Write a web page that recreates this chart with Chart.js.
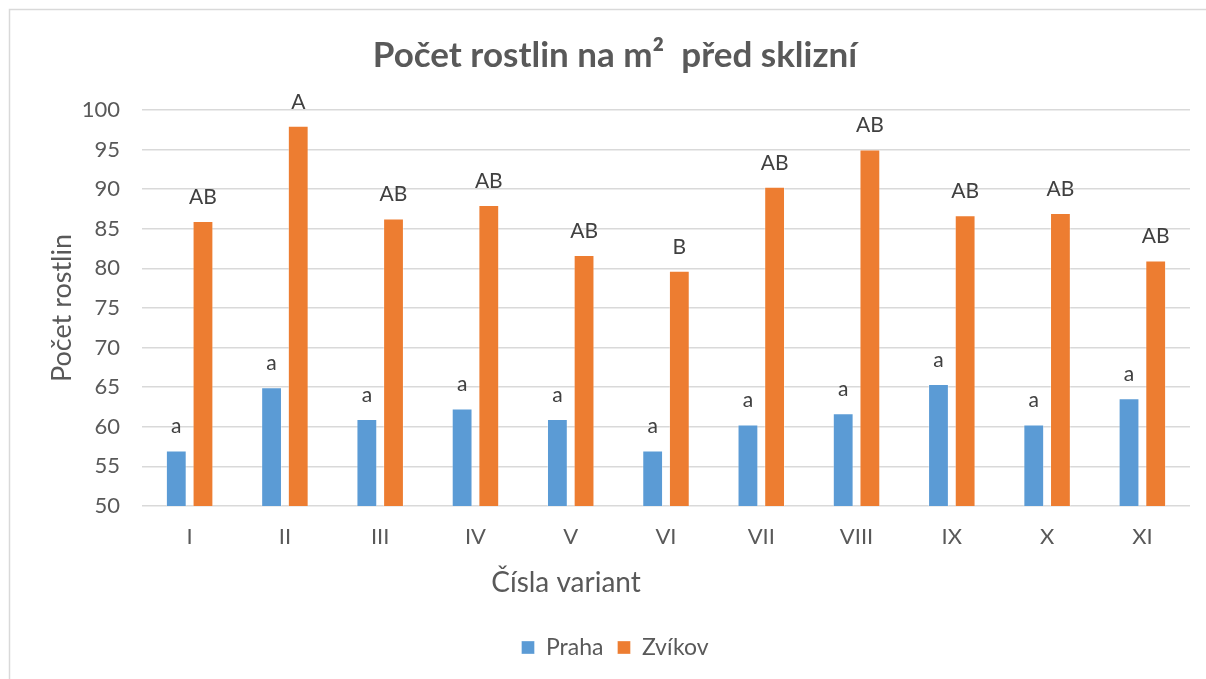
<!DOCTYPE html>
<html>
<head>
<meta charset="utf-8">
<script src="https://cdn.jsdelivr.net/npm/chart.js@4/dist/chart.umd.min.js"></script>
<style>
  html, body { margin: 0; padding: 0; background: #fff; }
  #wrap { position: relative; width: 1206px; height: 679px; }
</style>
</head>
<body>
<div id="wrap"><canvas id="c" width="1206" height="679"></canvas></div>
<script>
const categories = ['I', 'II', 'III', 'IV', 'V', 'VI', 'VII', 'VIII', 'IX', 'X', 'XI'];
const prahaValues = [57, 65, 61, 62.3, 61, 57, 60.3, 61.7, 65.4, 60.3, 63.6];
const zvikovValues = [86, 98, 86.3, 88, 81.7, 79.7, 90.3, 95, 86.7, 87, 81];
const prahaLetters = ['a', 'a', 'a', 'a', 'a', 'a', 'a', 'a', 'a', 'a', 'a'];
const zvikovLetters = ['AB', 'A', 'AB', 'AB', 'AB', 'B', 'AB', 'AB', 'AB', 'AB', 'AB'];
const seriesNames = ['Praha', 'Zvíkov'];
const yTicks = [50, 55, 60, 65, 70, 75, 80, 85, 90, 95, 100];

const FONT = 'Lato, "Open Sans", sans-serif';
const TXT = '#595959';

const frame = {
  id: 'frame',
  beforeDraw(chart) {
    const ctx = chart.ctx;
    ctx.save();
    ctx.strokeStyle = '#d9d9d9';
    ctx.lineWidth = 1.5;
    ctx.strokeRect(9.5, 9.5, chart.width + 20, chart.height + 20);
    ctx.restore();
  }
};

const letters = {
  id: 'letters',
  afterDatasetsDraw(chart) {
    const ctx = chart.ctx;
    const sets = [prahaLetters, zvikovLetters];
    ctx.save();
    ctx.font = '21px ' + FONT;
    ctx.fillStyle = '#404040';
    ctx.textAlign = 'center';
    ctx.textBaseline = 'middle';
    chart.data.datasets.forEach((ds, i) => {
      chart.getDatasetMeta(i).data.forEach((bar, j) => {
        ctx.fillText(sets[i][j], bar.x, bar.y - 24);
      });
    });
    // x axis title
    ctx.font = '28px ' + FONT;
    ctx.fillStyle = TXT;
    ctx.fillText('Čísla variant', chart.width / 2 - 37, 583);
    ctx.restore();
  }
};

new Chart(document.getElementById('c'), {
  type: 'bar',
  data: {
    labels: categories,
    datasets: [
      { label: seriesNames[0], data: prahaValues, backgroundColor: '#5B9BD5',
        borderColor: 'rgba(255,255,255,0.35)', borderWidth: 1,
        categoryPercentage: 0.56, barPercentage: 0.78 },
      { label: seriesNames[1], data: zvikovValues, backgroundColor: '#ED7D31',
        borderColor: 'rgba(255,255,255,0.35)', borderWidth: 1,
        categoryPercentage: 0.56, barPercentage: 0.78 }
    ]
  },
  options: {
    responsive: false,
    animation: false,
    devicePixelRatio: 1,
    layout: { padding: { left: 40, right: 16, top: 35, bottom: 10 } },
    plugins: {
      title: {
        display: true,
        text: 'Počet rostlin na m²  před sklizní',
        color: TXT,
        font: { family: FONT, size: 35, weight: 'bold' },
        padding: { top: 0, bottom: 33 }
      },
      legend: {
        position: 'bottom',
        labels: {
          color: TXT,
          font: { family: FONT, size: 23 },
          boxWidth: 13, boxHeight: 13, padding: 14
        }
      },
      tooltip: { enabled: false }
    },
    scales: {
      x: {
        grid: { display: false },
        border: { display: false },
        ticks: { color: TXT, font: { family: FONT, size: 22 }, padding: 10 },
        afterFit(scale) { scale.height = 116; }
      },
      y: {
        min: 50, max: 100,
        afterBuildTicks(scale) { scale.ticks = yTicks.map(v => ({ value: v })); },
        grid: { color: '#d9d9d9', lineWidth: 1.5, drawTicks: false },
        border: { display: false },
        ticks: { color: TXT, font: { family: FONT, size: 22 }, padding: 22 },
        title: { display: true, text: 'Počet rostlin', color: TXT,
                 font: { family: FONT, size: 27 }, padding: { top: 6, bottom: 0 } },
        afterFit(scale) { scale.width = 102; }
      }
    }
  },
  plugins: [frame, letters]
});
</script>
</body>
</html>
